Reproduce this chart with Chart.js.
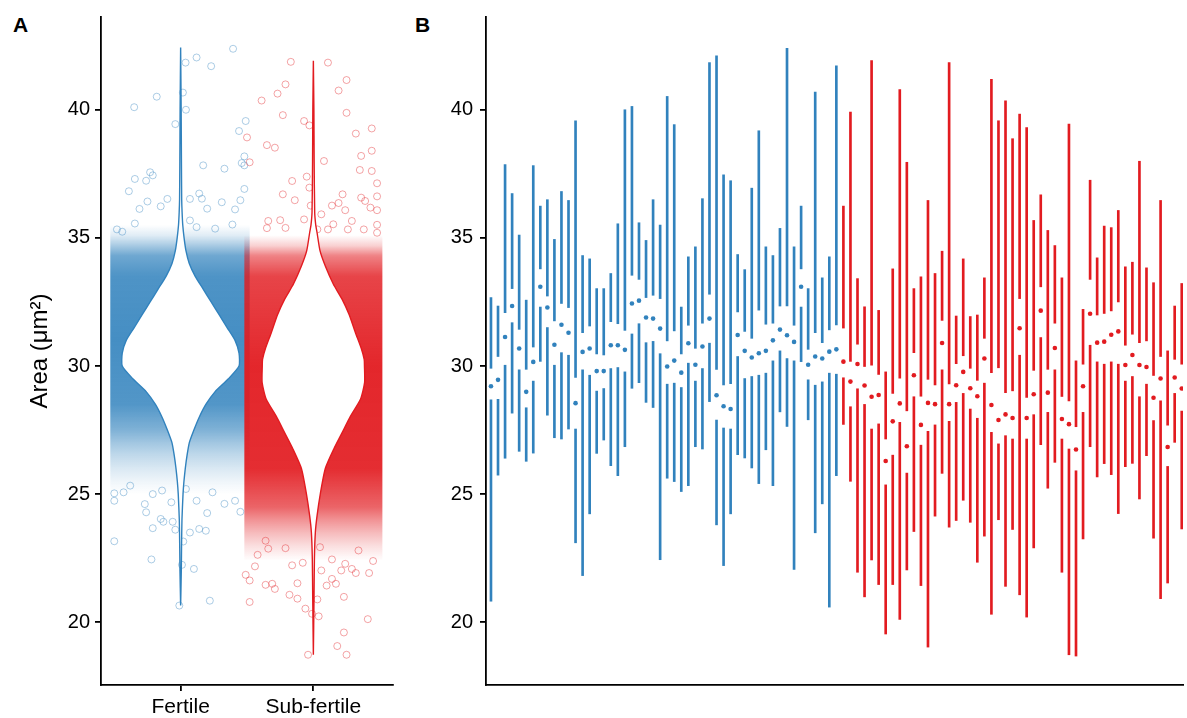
<!DOCTYPE html>
<html>
<head>
<meta charset="utf-8">
<script src="https://cdn.jsdelivr.net/npm/chart.js@4.4.1/dist/chart.umd.min.js"></script>
<style>
  body { margin: 0; background: #fff; width: 1187px; height: 718px; overflow: hidden; position: relative;
         font-family: 'Liberation Sans', Arial, sans-serif; }
  canvas { position: absolute; top: 0; }
  #chartA { left: 0; }
  #chartB { left: 400px; }
  .tag { position: absolute; top: 14px; font-weight: bold; font-size: 21px; line-height: 21px; color: #000; }
</style>
</head>
<body>
<div class="tag" style="left:13px">A</div>
<div class="tag" style="left:415px">B</div>
<canvas id="chartA" width="400" height="718"></canvas>
<canvas id="chartB" width="787" height="718"></canvas>
<script>
// groups and axis ticks
var groups = ['Fertile', 'Sub-fertile'];
var yTicks = [20, 25, 30, 35, 40];

// panel A: violin outlines (half width in x units at each area value)
var fertileViolinY = [42.43, 40, 38, 36.5, 36, 35.5, 35, 34.5, 34, 33.5, 33, 32.5, 32, 31.5, 31, 30.5, 30, 29.5, 29, 28.5, 28, 27.5, 27, 26.5, 26, 25.5, 25, 24, 23, 22, 20.65];
var fertileViolinW = [0, 0.004, 0.006, 0.008, 0.011, 0.016, 0.026, 0.04, 0.065, 0.11, 0.17, 0.23, 0.29, 0.35, 0.41, 0.44, 0.44, 0.36, 0.26, 0.19, 0.14, 0.10, 0.065, 0.048, 0.035, 0.025, 0.018, 0.01, 0.007, 0.005, 0];
var subViolinY = [41.91, 40, 38, 36, 35.5, 35.2, 34.5, 33.9, 33.2, 32.6, 32, 31.3, 30.7, 30.26, 30, 29.35, 28.7, 28.04, 27.4, 26.76, 26, 25.03, 24.16, 23.51, 22.5, 21, 18.73];
var subViolinW = [0, 0.004, 0.006, 0.01, 0.018, 0.028, 0.05, 0.09, 0.15, 0.217, 0.27, 0.317, 0.36, 0.383, 0.385, 0.386, 0.355, 0.28, 0.217, 0.154, 0.09, 0.053, 0.028, 0.015, 0.008, 0.005, 0];

// panel A: dense jitter cloud (x extent, and point density by area)
var fertileCloudX = [0.47, 1.52];
var subCloudX = [1.48, 2.52];
var fertileDensityY = [35.5, 35.1, 34.7, 34.3, 33.5, 31, 28.5, 27.5, 27.0, 26.5, 26.0, 25.5, 25.0];
var fertileDensity = [0, 0.15, 0.42, 0.7, 0.86, 0.9, 0.84, 0.62, 0.45, 0.3, 0.18, 0.08, 0];
var subDensityY = [35.1, 34.7, 34.3, 33.5, 30, 26, 24.5, 24.0, 23.5, 23.0, 22.4];
var subDensity = [0, 0.2, 0.55, 0.82, 0.95, 0.92, 0.68, 0.48, 0.3, 0.15, 0];

// panel A: sparse points outside the cloud [x, area]
var fertileOut = [[1.395,42.38],[1.12,42.04],[1.037,41.84],[1.23,41.70],[1.017,40.67],[1.04,40.0],[0.82,40.51],[0.65,40.1],[0.96,39.44],[1.49,39.56],[1.44,39.17],[1.48,38.18],[1.46,37.92],[1.48,37.83],[1.17,37.83],[1.33,37.70],[1.48,36.91],[0.655,37.30],[0.77,37.56],[0.79,37.44],[0.74,37.23],[0.61,36.82],[0.90,36.52],[1.07,36.52],[1.14,36.73],[1.16,36.53],[1.31,36.39],[1.45,36.47],[1.41,36.11],[1.20,36.14],[0.75,36.42],[0.69,36.13],[0.85,36.23],[0.52,35.33],[0.56,35.24],[0.655,35.56],[1.07,35.68],[1.12,35.42],[1.26,35.36],[1.39,35.52],
  [1.22,20.84],[0.78,22.45],[1.10,22.08],[1.01,22.24],[0.50,23.16],[0.79,23.67],[1.02,23.15],[1.19,23.57],[1.07,23.50],[1.14,23.64],[0.96,23.61],[0.85,24.03],[0.87,23.92],[0.94,23.92],[0.73,24.61],[0.74,24.29],[1.20,24.26],[1.33,24.62],[1.45,24.31],[0.50,24.74],[0.50,25.03],[0.57,25.07],[0.62,25.33],[0.79,25.00],[0.86,25.14],[0.93,24.68],[1.12,24.74],[1.24,25.07],[1.41,24.74],[1.04,25.20],[0.99,20.65]];
var subOut = [[1.83,41.87],[2.11,41.84],[2.25,41.16],[1.79,40.99],[1.73,40.63],[1.61,40.36],[2.19,40.75],[2.25,39.88],[1.77,39.79],[1.93,39.56],[1.97,39.39],[2.44,39.27],[2.32,39.07],[1.50,38.92],[1.65,38.62],[1.71,38.52],[2.36,38.20],[2.44,38.40],[2.08,38.0],[1.52,37.95],[2.35,37.65],[2.44,37.61],[1.95,37.39],[1.84,37.22],[1.97,36.96],[2.48,37.13],[1.77,36.70],[1.86,36.47],[2.22,36.70],[2.36,36.57],[2.39,36.44],[2.48,36.62],[2.43,36.18],[2.14,36.26],[2.19,36.36],[2.24,36.08],[2.48,36.08],[2.06,35.92],[1.98,36.26],[1.66,35.66],[1.75,35.69],[1.93,35.72],[2.15,35.53],[2.29,35.66],[2.48,35.51],[2.48,35.20],[1.79,35.39],[1.65,35.38],[2.03,35.33],[2.11,35.33],[2.38,35.33],[2.26,35.33],
  [1.96,18.73],[2.25,18.73],[2.18,19.07],[2.23,19.60],[2.41,20.12],[2.04,20.23],[1.94,20.53],[1.52,20.79],[1.99,20.33],[2.03,20.89],[1.88,20.92],[1.82,21.07],[2.23,20.99],[1.71,21.30],[1.64,21.46],[1.69,21.50],[1.88,21.52],[2.10,21.43],[2.17,21.50],[1.52,21.63],[1.49,21.85],[1.56,22.18],[1.84,22.22],[1.92,22.32],[2.06,22.02],[2.14,21.69],[2.21,22.02],[2.24,22.28],[2.32,21.92],[2.42,21.92],[2.45,22.39],[2.29,22.08],[2.14,22.45],[1.58,22.63],[1.66,22.87],[1.79,22.89],[2.05,22.93],[2.34,22.80],[1.64,23.18]];

// panel B: one tufte box per sample (first 50 fertile, then sub-fertile)
var nFertile = 50;
var sampleMax = [32.67,32.34,37.86,36.73,35.11,32.57,37.82,36.24,36.49,34.94,36.81,36.46,39.57,34.31,34.18,33.02,33.02,33.61,35.55,40.00,40.13,35.59,34.90,36.49,35.50,40.52,39.42,32.30,34.26,34.65,36.53,41.84,42.10,37.46,37.23,34.35,33.76,36.94,39.18,34.65,34.31,35.37,42.40,34.65,36.24,33.02,40.69,33.44,34.26,41.71,
  36.24,39.91,33.41,32.31,41.92,32.17,29.77,33.79,40.79,37.95,33.02,33.48,36.46,33.61,34.48,41.84,31.95,34.18,31.93,31.99,33.44,41.19,39.57,40.35,38.87,39.83,39.30,35.68,36.68,35.29,34.70,33.44,39.44,30.20,32.21,37.25,34.22,35.46,35.40,36.07,33.87,34.05,37.99,33.83,33.25,36.46,30.59,32.34,33.22];
var sampleQ3 = [29.91,30.37,32.08,33.02,31.43,29.87,30.74,33.79,32.73,31.76,32.44,32.28,29.55,31.30,31.56,30.47,30.43,31.73,31.65,31.39,33.54,33.38,32.67,32.76,32.63,30.98,31.37,30.47,31.59,30.69,31.67,32.80,29.87,29.26,29.31,32.11,31.35,31.08,32.18,31.63,31.67,32.34,32.34,31.59,33.79,30.65,31.30,30.91,31.41,31.60,
  31.48,30.18,30.85,29.98,30.03,29.67,27.15,28.93,29.52,28.25,30.52,28.82,29.48,29.26,31.78,29.30,30.09,30.40,29.91,29.44,31.08,29.74,29.93,28.96,29.03,32.63,28.77,29.83,33.09,29.87,31.67,28.81,28.64,27.63,30.07,33.38,31.99,32.05,32.15,32.50,30.81,31.24,30.91,30.98,29.63,30.37,27.69,30.26,30.07];
var sampleMedian = [29.21,29.46,31.13,32.34,30.68,28.99,30.16,33.09,32.28,30.83,31.61,31.30,28.55,30.55,30.68,29.80,29.80,30.81,30.81,30.63,32.44,32.55,31.89,31.85,31.46,29.98,30.21,29.74,30.89,30.05,30.76,31.85,28.86,28.43,28.32,31.21,30.59,30.33,30.50,30.59,31.00,31.42,31.20,30.94,33.09,30.05,30.37,30.29,30.56,30.65,
  30.17,29.39,30.08,29.24,28.80,28.87,26.29,27.84,28.54,26.87,29.64,27.70,28.56,28.51,30.90,28.51,29.25,29.77,29.13,28.82,30.29,28.48,27.89,28.11,27.97,31.47,27.97,28.90,32.16,28.96,30.70,27.93,27.73,26.74,29.21,32.04,30.91,30.95,31.22,31.35,30.04,30.43,30.04,29.96,28.76,29.51,26.84,29.55,29.12];
var sampleQ1 = [28.68,28.70,30.03,31.69,29.85,28.37,29.41,32.30,31.50,30.03,30.52,30.42,27.54,29.85,29.64,29.02,29.12,29.90,29.94,29.77,31.25,31.65,30.91,30.96,30.48,29.29,29.33,29.16,30.11,29.41,29.90,30.89,27.89,27.58,27.54,30.37,29.51,29.59,29.64,29.72,30.20,30.59,30.29,30.20,32.30,29.46,29.25,29.38,29.72,29.68,
  29.54,28.41,29.11,28.50,27.54,27.74,25.36,26.52,27.80,25.82,28.80,26.91,27.45,27.70,29.85,27.84,28.58,28.93,28.32,27.96,29.33,27.41,26.96,27.28,27.15,30.42,27.15,28.10,31.11,28.19,29.85,27.15,26.76,25.91,28.19,30.81,30.16,30.07,30.16,30.07,29.41,29.59,28.80,29.29,27.87,28.64,26.08,28.93,28.24];
var sampleMin = [20.82,25.74,26.40,28.16,26.67,26.28,26.60,30.18,28.08,27.20,27.15,27.54,23.10,21.82,24.23,26.59,27.11,26.11,25.72,26.85,29.13,29.35,28.58,28.38,22.44,25.62,25.49,25.10,25.33,26.85,26.76,28.61,23.80,22.21,24.23,26.54,26.41,26.02,25.41,26.73,25.33,28.21,27.64,22.06,30.17,27.90,23.49,24.62,20.59,25.72,
  27.72,25.50,21.95,20.99,22.43,21.47,19.54,21.47,20.11,22.04,23.54,21.43,19.03,24.14,25.81,23.71,23.97,24.76,23.90,22.34,23.36,20.31,24.00,21.40,23.62,21.07,20.20,22.90,26.93,25.23,26.24,21.95,18.73,18.68,23.25,26.85,25.67,26.19,25.76,24.24,26.07,26.20,24.81,26.50,23.28,20.92,21.53,27.02,23.64];

var blueRgb = '49,130,189';
var redRgb = '226,27,32';
var black = '#000';
Chart.defaults.font.family = "'Liberation Sans', Arial, sans-serif";
Chart.defaults.color = black;

function rgba(rgb, a) { return 'rgba(' + rgb + ',' + a + ')'; }

// force axis box size and drop label overhang padding
function fixBox(w, h) {
  return function (scale) {
    if (w) scale.width = w;
    if (h) scale.height = h;
    scale.paddingTop = 0; scale.paddingBottom = 0;
    scale.paddingLeft = 0; scale.paddingRight = 0;
  };
}
function setTicks(values) {
  return function (scale) {
    scale.ticks = values.map(function (v) { return { value: v }; });
  };
}

function violinPath(center, ys, ws) {
  var pts = [];
  for (var i = 0; i < ys.length; i++) pts.push({ x: center - ws[i], y: ys[i] });
  for (var j = ys.length - 1; j >= 0; j--) pts.push({ x: center + ws[j], y: ys[j] });
  return pts;
}
function cloudPath(xr, ys) {
  var top = ys[0], bot = ys[ys.length - 1];
  return [{ x: xr[0], y: top }, { x: xr[1], y: top }, { x: xr[1], y: bot }, { x: xr[0], y: bot }, { x: xr[0], y: top }];
}
function cloudFill(rgb, ys, alphas) {
  return function (ctx) {
    var chart = ctx.chart;
    if (!chart.chartArea) return 'transparent';
    var y = chart.scales.y;
    var top = y.getPixelForValue(ys[0]);
    var bot = y.getPixelForValue(ys[ys.length - 1]);
    var g = chart.ctx.createLinearGradient(0, top, 0, bot);
    for (var i = 0; i < ys.length; i++) {
      g.addColorStop((y.getPixelForValue(ys[i]) - top) / (bot - top), rgba(rgb, alphas[i]));
    }
    return g;
  };
}
function toXY(list) { return list.map(function (p) { return { x: p[0], y: p[1] }; }); }

function yAxisOptions(width, pad, title) {
  return {
    min: 17.55, max: 43.62,
    afterBuildTicks: setTicks(yTicks),
    afterFit: fixBox(width, 0),
    ticks: { font: { size: 20 }, color: black, padding: pad },
    grid: { drawOnChartArea: false, tickLength: 6, color: black, lineWidth: 1.8 },
    border: { color: black, width: 1.8 },
    title: title
  };
}

// ---- panel A ----
new Chart(document.getElementById('chartA'), {
  type: 'scatter',
  data: {
    datasets: [
      { data: cloudPath(fertileCloudX, fertileDensityY), showLine: true, pointRadius: 0, borderWidth: 0,
        fill: 'shape', backgroundColor: cloudFill(blueRgb, fertileDensityY, fertileDensity), order: 6 },
      { data: cloudPath(subCloudX, subDensityY), showLine: true, pointRadius: 0, borderWidth: 0,
        fill: 'shape', backgroundColor: cloudFill(redRgb, subDensityY, subDensity), order: 5 },
      { data: toXY(fertileOut), pointRadius: 3.5, borderWidth: 1, borderColor: rgba(blueRgb, 0.4),
        backgroundColor: 'rgba(0,0,0,0)', order: 4 },
      { data: toXY(subOut), pointRadius: 3.5, borderWidth: 1, borderColor: rgba(redRgb, 0.4),
        backgroundColor: 'rgba(0,0,0,0)', order: 3 },
      { data: violinPath(1, fertileViolinY, fertileViolinW), showLine: true, pointRadius: 0, tension: 0.2,
        borderColor: rgba(blueRgb, 1), borderWidth: 1.4, fill: 'shape', backgroundColor: '#fff', order: 1 },
      { data: violinPath(2, subViolinY, subViolinW), showLine: true, pointRadius: 0, tension: 0.2,
        borderColor: rgba(redRgb, 1), borderWidth: 1.4, fill: 'shape', backgroundColor: '#fff', order: 0 }
    ]
  },
  options: {
    responsive: false,
    animation: false,
    layout: { padding: { top: 17, right: 7, bottom: 0, left: 0 } },
    plugins: { legend: { display: false }, tooltip: { enabled: false } },
    scales: {
      x: {
        type: 'linear', min: 0.4, max: 2.6,
        afterBuildTicks: setTicks([1, 2]),
        afterFit: fixBox(0, 33),
        ticks: { font: { size: 21 }, color: black, padding: 4, maxRotation: 0, autoSkip: false,
                 callback: function (v) { return groups[Math.round(v) - 1]; } },
        grid: { drawOnChartArea: false, tickLength: 6, color: black, lineWidth: 1.8 },
        border: { color: black, width: 1.8 }
      },
      y: yAxisOptions(101, 5, { display: true, text: 'Area (μm²)', font: { size: 24 }, color: black,
                                padding: { top: 26, bottom: 0 } })
    }
  }
});

// ---- panel B ----
var idx = sampleMedian.map(function (v, i) { return i; });
var colorsB = idx.map(function (i) { return rgba(i < nFertile ? blueRgb : redRgb, 1); });

new Chart(document.getElementById('chartB'), {
  type: 'bar',
  data: {
    datasets: [
      { data: idx.map(function (i) { return { x: i, y: [sampleMin[i], sampleQ1[i]] }; }),
        backgroundColor: colorsB, barThickness: 2, grouped: false, borderWidth: 0 },
      { data: idx.map(function (i) { return { x: i, y: [sampleQ3[i], sampleMax[i]] }; }),
        backgroundColor: colorsB, barThickness: 2, grouped: false, borderWidth: 0 },
      { type: 'line', data: idx.map(function (i) { return { x: i, y: sampleMedian[i] }; }),
        showLine: false, pointRadius: 2.3, pointBorderWidth: 0, pointBackgroundColor: colorsB }
    ]
  },
  options: {
    responsive: false,
    animation: false,
    layout: { padding: { top: 17, right: 0, bottom: 0, left: 0 } },
    plugins: { legend: { display: false }, tooltip: { enabled: false } },
    scales: {
      x: {
        type: 'linear', min: -0.705, max: 98.18, offset: false,
        afterFit: fixBox(0, 33),
        ticks: { display: false },
        grid: { display: false },
        border: { display: true, color: black, width: 1.8 }
      },
      y: yAxisOptions(86, 7, { display: false })
    }
  }
});
</script>
</body>
</html>
